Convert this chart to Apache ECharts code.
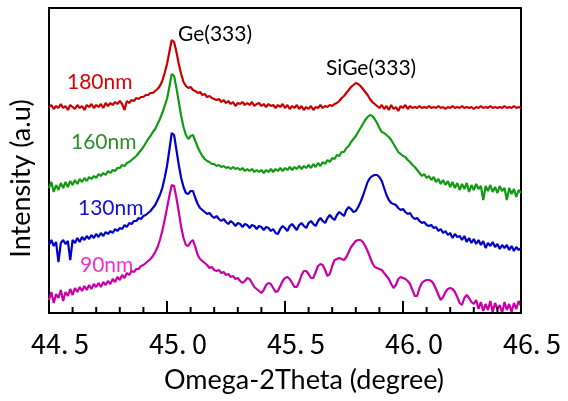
<!DOCTYPE html>
<html>
<head>
<meta charset="utf-8">
<script src="https://cdn.jsdelivr.net/npm/echarts@6/dist/echarts.min.js"></script>
<style>html,body{margin:0;padding:0;background:#fff}#c{width:568px;height:401px}</style>
</head>
<body>
<div id="c"></div>
<script>
// Sampling grid of Omega-2Theta (degree)
const X_START = 44.5, X_STEP = 0.01, N_POINTS = 201;
const tickLabels = ['44.\u20095', '45.\u20090', '45.\u20095', '46.\u20090', '46.\u20095'];
const majorTickVals = [44.5, 45.0, 45.5, 46.0, 46.5];
const minorTickVals = [44.6, 44.7, 44.8, 44.9, 45.1, 45.2, 45.3, 45.4,
                       45.6, 45.7, 45.8, 45.9, 46.1, 46.2, 46.3, 46.4];
const seriesNames = ['180nm', '160nm', '130nm', '90nm'];
const peakLabels = ['Ge(333)', 'SiGe(333)'];

// Intensities (a.u., vertically offset as in the figure)
const i180 = [206,208,204,207,205,209,205,207,203,208,206,204,208,205,207,203,208,206,209,205,
208,206,209,205,210,207,210,208,211,209,212,209,203,212,210,213,212,215,214,216,
216,218,218,220,220,222,224,227,232,240,249,261,273,271,261,249,239,231,227,225,
226,223,222,220,221,218,219,216,217,215,214,213,214,211,213,210,212,209,211,207,
210,209,211,208,210,208,211,207,209,210,207,209,206,209,207,208,205,208,206,209,
205,208,204,207,205,208,204,207,203,206,204,207,203,206,205,208,205,207,206,208,
207,209,210,212,215,217,220,223,226,228,230,229,227,224,221,218,214,211,209,207,
205,208,204,207,203,208,204,206,202,207,205,208,204,207,205,206,205,207,205,206,
205,207,205,206,205,207,205,206,204,206,205,207,205,206,205,207,205,206,205,206,
204,206,205,207,205,206,205,207,205,206,205,206,205,207,205,206,205,207,205,206,205];
const i160 = [125,131,121,128,123,130,125,131,126,132,128,133,129,134,131,135,132,136,134,137,
135,139,137,140,138,142,140,143,142,145,145,148,147,150,151,153,155,157,160,163,
166,170,174,177,181,184,189,194,200,207,214,226,239,237,225,211,197,186,178,174,
177,178,172,166,161,157,154,152,151,149,149,147,148,146,147,145,146,144,146,144,
145,143,145,142,144,142,144,141,143,141,143,140,143,141,144,141,144,142,145,142,
145,143,146,143,146,144,147,144,147,145,148,145,149,146,150,147,151,149,153,151,
155,154,158,157,161,161,165,167,171,174,177,181,185,189,193,196,198,197,194,190,
185,181,180,178,176,173,169,165,161,159,157,156,153,151,148,146,143,140,137,139,
135,137,133,136,131,134,129,133,128,132,126,131,125,130,123,129,124,130,121,128,
123,129,124,127,113,127,122,128,121,126,120,127,122,125,113,125,119,124,116,123,120];
const i130 = [68,73,67,71,51,70,73,69,72,53,73,70,75,71,76,73,77,74,78,75,
79,76,80,77,81,79,82,80,84,82,85,84,88,86,90,89,92,92,95,94,
97,98,100,102,105,108,113,118,125,135,147,163,180,178,163,148,135,126,120,119,
122,122,115,109,105,103,101,99,100,97,95,97,94,92,94,91,89,92,90,87,
90,89,86,89,88,85,88,87,84,87,86,83,86,85,82,84,80,79,84,87,
85,82,87,89,86,83,88,90,87,85,90,92,89,87,92,95,92,90,95,98,
95,93,98,101,99,97,103,106,104,101,102,106,111,117,124,131,135,137,138,138,
136,132,125,118,113,110,109,108,105,103,104,101,99,100,96,94,95,92,90,91,
88,87,88,85,86,82,84,80,82,78,80,75,79,76,77,73,77,71,75,70,
74,69,73,68,72,65,70,67,71,66,69,64,68,65,68,63,67,62,66,63,65];
const i90 = [13,21,10,19,15,23,12,21,17,24,18,25,21,26,22,27,23,28,24,29,
26,30,26,31,28,32,29,34,31,36,33,38,35,40,38,42,41,44,44,47,
48,50,52,54,57,61,66,73,82,93,105,117,128,127,115,101,86,75,68,67,
71,73,66,58,54,52,50,48,45,46,43,42,43,40,41,38,39,36,37,34,
35,32,30,32,35,34,30,26,24,22,20,23,28,30,29,25,21,22,27,32,
35,36,34,30,26,26,31,38,42,42,39,35,35,41,47,49,48,43,37,39,
47,53,54,55,54,53,56,61,66,69,72,73,73,71,67,62,56,50,46,45,
44,43,40,37,34,29,25,28,34,36,35,34,32,29,23,17,17,25,30,32,
33,33,32,29,24,18,13,16,21,24,25,24,21,16,10,8,15,18,15,11,
9,13,4,11,2,9,3,12,1,10,4,8,0,11,3,9,1,10,4,12,7];

const lineColors = ['#c80000', '#139a13', '#0000c8', '#c800a8'];
const textColors = ['#e00000', '#2a8f2a', '#1010e0', '#f030c8'];

function pairs(vals) {
  return vals.map((v, i) => [+(X_START + X_STEP * i).toFixed(2), v]);
}
const allVals = [i180, i160, i130, i90];
const frameLine = {show: true, onZero: false, lineStyle: {color: '#000', width: 2}};
const hidden = {show: false};

const textGraphics = [
  {type: 'text', left: 67, top: 72, style: {text: seriesNames[0], fill: textColors[0], font: '21px Lato'}},
  {type: 'text', left: 71, top: 132, style: {text: seriesNames[1], fill: textColors[1], font: '21px Lato'}},
  {type: 'text', left: 78, top: 198, style: {text: seriesNames[2], fill: textColors[2], font: '21px Lato'}},
  {type: 'text', left: 80, top: 255, style: {text: seriesNames[3], fill: textColors[3], font: '21px Lato'}},
  {type: 'text', left: 178, top: 24, style: {text: peakLabels[0], fill: '#000', font: '21px Lato'}},
  {type: 'text', left: 326, top: 58, style: {text: peakLabels[1], fill: '#000', font: '21px Lato'}}
];

const chart = echarts.init(document.getElementById('c'), null, {renderer: 'canvas'});
chart.setOption({
  animation: false,
  backgroundColor: '#fff',
  grid: {left: 49, right: 47, top: 8, bottom: 88, show: false},
  xAxis: [{
    type: 'value', min: 44.5, max: 46.5, interval: 0.5, position: 'bottom',
    name: 'Omega-2Theta (degree)', nameLocation: 'middle', nameGap: 54,
    nameTextStyle: {fontFamily: 'Lato', fontSize: 27, color: '#000', padding: [0, 0, 0, 38]},
    axisLine: frameLine,
    axisTick: hidden,
    splitLine: hidden,
    axisLabel: {
      margin: 17, fontFamily: 'Noto Sans CJK JP', fontSize: 27, color: '#000',
      padding: [0, 0, 0, 22],
      formatter: v => tickLabels[Math.round((v - 44.5) / 0.5)]
    },
    z: 10
  }, {
    type: 'value', min: 44.5, max: 46.5, position: 'top',
    axisLine: frameLine, axisTick: hidden, axisLabel: hidden, splitLine: hidden
  }],
  yAxis: [{
    type: 'value', min: 0, max: 305, position: 'left',
    name: 'Intensity (a.u)', nameLocation: 'middle', nameGap: 14,
    nameTextStyle: {fontFamily: 'Lato', fontSize: 27, color: '#000', padding: [0, 36, 0, 0]},
    axisLine: frameLine,
    axisTick: hidden, axisLabel: hidden, splitLine: hidden
  }, {
    type: 'value', min: 0, max: 305, position: 'right',
    axisLine: frameLine, axisTick: hidden, axisLabel: hidden, splitLine: hidden
  }],
  series: allVals.map((vals, k) => ({
    name: seriesNames[k], type: 'line', showSymbol: false, symbol: 'none',
    data: pairs(vals), lineStyle: {color: lineColors[k], width: 2.2}, z: 2
  })),
  graphic: textGraphics
});

// Inward-pointing axis ticks, placed through the chart's own x scale
const tickGraphics = [];
function addTicks(vals, len) {
  vals.forEach(v => {
    const p = chart.convertToPixel({xAxisIndex: 0, yAxisIndex: 0}, [v, 0]);
    tickGraphics.push({
      type: 'line', z: 100, silent: true,
      shape: {x1: p[0], y1: p[1], x2: p[0], y2: p[1] - len},
      style: {stroke: '#000', lineWidth: 2}
    });
  });
}
addTicks(majorTickVals, 12);
addTicks(minorTickVals, 6);
chart.setOption({graphic: textGraphics.concat(tickGraphics)});
</script>
</body>
</html>
